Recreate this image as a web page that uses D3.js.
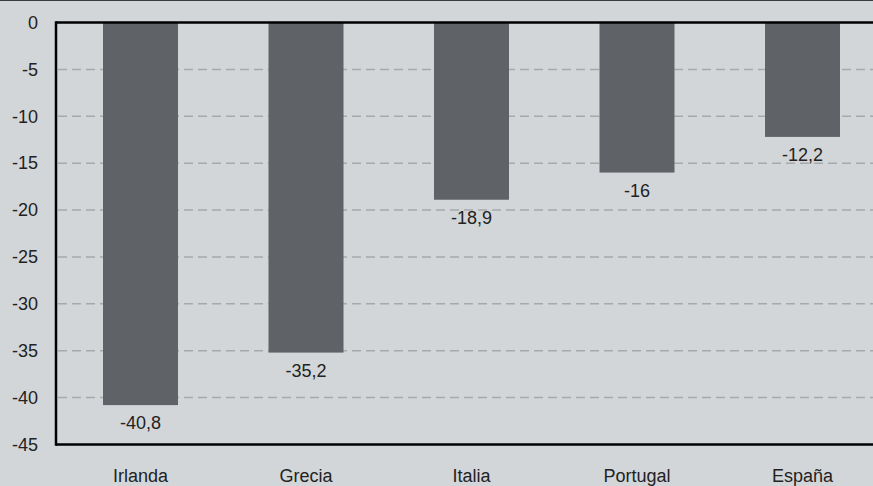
<!DOCTYPE html>
<html>
<head>
<meta charset="utf-8">
<script src="https://cdn.jsdelivr.net/npm/d3@7"></script>
<style>
  body { margin: 0; background: #d3d6d9; }
  svg { display: block; font-family: "Liberation Sans", Arial, sans-serif; }
</style>
</head>
<body>
<div id="chart"></div>
<script>
// data
const countries = ["Irlanda", "Grecia", "Italia", "Portugal", "España"];
const values = [-40.8, -35.2, -18.9, -16, -12.2];
const yTicks = [0, -5, -10, -15, -20, -25, -30, -35, -40, -45];

const W = 873, H = 486;
const plot = {left: 56, top: 22.5, bottom: 444.5};
const fontSize = 18;
const fmt = d => String(d).replace(".", ",");

const svg = d3.select("#chart").append("svg")
  .attr("width", W)
  .attr("height", H);

svg.append("rect")
  .attr("width", W).attr("height", H)
  .attr("fill", "#d3d6d9");

// thin dark line across the very top
svg.append("line")
  .attr("x1", 0).attr("x2", W)
  .attr("y1", 0.5).attr("y2", 0.5)
  .attr("stroke", "#3a3b3d").attr("stroke-width", 1);

const x = d3.scaleBand()
  .domain(countries)
  .range([57.75, 885.25])
  .padding(0);
const barW = 75;

const y = d3.scaleLinear()
  .domain([0, -45])
  .range([plot.top, plot.bottom]);

// dashed grid
svg.append("g")
  .selectAll("line")
  .data(yTicks.filter(d => d !== 0 && d !== -45))
  .join("line")
  .attr("x1", plot.left + 2).attr("x2", W)
  .attr("y1", d => y(d))
  .attr("y2", d => y(d))
  .attr("stroke", "#a6a9ac")
  .attr("stroke-width", 1.5)
  .attr("stroke-dasharray", "9,5");

// bars
svg.append("g")
  .selectAll("rect")
  .data(values)
  .join("rect")
  .attr("x", (d, i) => x(countries[i]) + x.bandwidth() / 2 - barW / 2)
  .attr("y", y(0))
  .attr("width", barW)
  .attr("height", d => y(d) - y(0))
  .attr("fill", "#5f6266");

// value labels under bar ends
svg.append("g")
  .selectAll("text")
  .data(values)
  .join("text")
  .attr("x", (d, i) => x(countries[i]) + x.bandwidth() / 2)
  .attr("y", d => y(d) + 18)
  .attr("dy", "0.35em")
  .attr("text-anchor", "middle")
  .attr("font-size", fontSize)
  .attr("fill", "#222")
  .text(fmt);

// y axis labels
svg.append("g")
  .selectAll("text")
  .data(yTicks)
  .join("text")
  .attr("x", 38)
  .attr("y", d => y(d))
  .attr("dy", "0.35em")
  .attr("text-anchor", "end")
  .attr("font-size", fontSize)
  .attr("fill", "#222")
  .text(d => d);

// category labels
svg.append("g")
  .selectAll("text")
  .data(countries)
  .join("text")
  .attr("x", d => x(d) + x.bandwidth() / 2)
  .attr("y", 476)
  .attr("dy", "0.35em")
  .attr("text-anchor", "middle")
  .attr("font-size", fontSize)
  .attr("fill", "#222")
  .text(d => d);

// plot frame: top, left, bottom
const frame = svg.append("g")
  .attr("stroke", "#000")
  .attr("stroke-width", 2.5);
frame.append("line")
  .attr("x1", plot.left).attr("x2", W)
  .attr("y1", plot.top).attr("y2", plot.top);
frame.append("line")
  .attr("x1", plot.left).attr("x2", plot.left)
  .attr("y1", plot.top - 1.25).attr("y2", plot.bottom + 1.25);
frame.append("line")
  .attr("x1", plot.left).attr("x2", W)
  .attr("y1", plot.bottom).attr("y2", plot.bottom);
</script>
</body>
</html>
